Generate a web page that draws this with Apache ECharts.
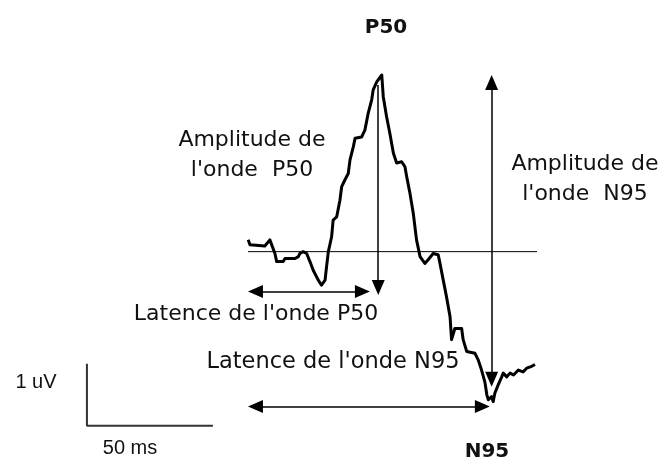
<!DOCTYPE html>
<html>
<head>
<meta charset="utf-8">
<script src="https://cdn.jsdelivr.net/npm/echarts@6/dist/echarts.min.js"></script>
<style>
  html, body { margin: 0; padding: 0; background: #fff; }
  #main { width: 665px; height: 463px; }
</style>
</head>
<body>
<div id="main"></div>
<script>
// trace of the wave: time (ms) after stimulus, amplitude (uV)
var traceT = [0.1, 0.8, 6.7, 8.7, 9.4, 10.7, 11.4, 14.0, 14.7, 18.7, 20.0, 20.6, 21.9, 23.3, 24.6, 25.9, 27.9, 29.2, 30.6, 31.2,
  31.9, 33.2, 33.8, 35.2, 36.5, 37.2, 38.5, 39.8, 40.5, 41.8, 42.5, 45.1, 46.4, 47.7, 49.1, 49.7, 51.1, 53.1, 53.7, 55.0,
  56.3, 57.7, 59.0, 61.0, 62.3, 63.0, 64.3, 65.6, 66.9, 68.3, 70.2, 71.5, 73.5, 75.5, 76.2, 77.5, 78.8, 80.2, 80.8, 82.1,
  84.8, 85.4, 86.8, 90.1, 91.4, 92.7, 94.0, 94.8, 95.4, 96.7, 97.3, 98.0, 99.3, 100.7, 101.3, 102.7, 104.0, 105.4, 107.3, 109.2,
  110.6, 112.6, 113.9];
var traceV = [0.19, 0.11, 0.09, 0.19, 0.16, -0.03, -0.16, -0.16, -0.11, -0.11, -0.08, -0.03, 0, -0.03, -0.16, -0.30, -0.46, -0.54, -0.46, -0.24,
  0, 0.24, 0.51, 0.56, 0.83, 1.05, 1.16, 1.26, 1.48, 1.69, 1.83, 1.85, 1.96, 2.23, 2.45, 2.61, 2.74, 2.85, 2.50, 2.18,
  1.91, 1.59, 1.43, 1.45, 1.37, 1.21, 0.94, 0.62, 0.19, -0.08, -0.19, -0.13, -0.03, -0.05, -0.19, -0.46, -0.73, -1.05, -1.42, -1.24,
  -1.24, -1.42, -1.61, -1.64, -1.75, -1.91, -2.10, -2.31, -2.39, -2.34, -2.42, -2.28, -2.15, -2.02, -1.96, -2.02, -1.96, -1.99, -1.91, -1.94,
  -1.88, -1.85, -1.82];

// annotation measures
var baselineEnd = 114.7;
var p50Latency = 48.4;  var p50Time = 51.7;  var p50Top = 2.69;  var p50Bottom = -0.70;  var p50LatY = -0.645;
var n95Latency = 96.0;  var n95Time = 96.7;  var n95Top = 2.85;  var n95Bottom = -2.18;  var n95LatY = -2.50;
// calibration bars
var barOrigin = [-63.9, -2.81];
var barTime = 50;  // ms
var barVolt = 1;   // uV

var xMin = -98.4, xMax = 165.5, yMin = -3.41, yMax = 4.06;
var W = 665, H = 463;

var traceData = traceT.map(function (t, i) { return [t, traceV[i]]; });
var scaleBar = [[barOrigin[0], barOrigin[1] + barVolt], barOrigin, [barOrigin[0] + barTime, barOrigin[1]]];

// arrow heads are drawn centred on the line end, so pull the line in by half a head
var headLen = 15, headW = 13;
function inset(p, q, on) {
  if (!on) return p;
  var dx = (q[0] - p[0]) * W / (xMax - xMin), dy = (q[1] - p[1]) * H / (yMax - yMin);
  var d = Math.sqrt(dx * dx + dy * dy), k = headLen / 2 / d;
  return [p[0] + (q[0] - p[0]) * k, p[1] + (q[1] - p[1]) * k];
}
function arrow(a, b, headA, headB) {
  return [
    { coord: inset(a, b, headA), symbol: headA ? 'triangle' : 'none', symbolSize: [headW, headLen] },
    { coord: inset(b, a, headB), symbol: headB ? 'triangle' : 'none', symbolSize: [headW, headLen] }
  ];
}

var myChart = echarts.init(document.getElementById('main'));

function txt(s, x, y, size, bold, family) {
  return {
    type: 'text', x: x, y: y, silent: true,
    style: {
      text: s, fill: '#111',
      font: (bold ? 'bold ' : '') + size + 'px ' + family,
      align: 'center', verticalAlign: 'middle',
      textAlign: 'center', textVerticalAlign: 'middle'
    }
  };
}

myChart.setOption({
  animation: false,
  backgroundColor: '#fff',
  grid: { left: 0, right: 0, top: 0, bottom: 0 },
  xAxis: { type: 'value', min: xMin, max: xMax, show: false },
  yAxis: { type: 'value', min: yMin, max: yMax, show: false },
  graphic: [
    txt('P50', 386, 28, 20, true, '"DejaVu Sans"'),
    txt('N95', 487, 452, 20, true, '"DejaVu Sans"'),
    txt('Amplitude de', 252, 140, 22, false, '"DejaVu Sans"'),
    txt("l'onde  P50", 252, 170, 22, false, '"DejaVu Sans"'),
    txt('Amplitude de', 585, 164, 22, false, '"DejaVu Sans"'),
    txt("l'onde  N95", 585, 194, 22, false, '"DejaVu Sans"'),
    txt("Latence de l'onde P50", 256, 314, 22, false, '"DejaVu Sans"'),
    txt("Latence de l'onde N95", 333, 362, 22.5, false, '"DejaVu Sans"'),
    txt('1 uV', 36, 382, 20, false, '"Liberation Sans"'),
    txt('50 ms', 130, 448, 20, false, '"Liberation Sans"')
  ],
  series: [
    {
      name: 'baseline', type: 'line', silent: true, symbol: 'none',
      lineStyle: { color: '#000', width: 1 },
      data: [[0, 0], [baselineEnd, 0]]
    },
    {
      name: 'scale', type: 'line', silent: true, symbol: 'none',
      lineStyle: { color: '#333', width: 2 },
      data: scaleBar
    },
    {
      name: 'onde', type: 'line', silent: true, symbol: 'none',
      lineStyle: { color: '#000', width: 3, join: 'round' },
      data: traceData,
      markLine: {
        silent: true, animation: false,
        label: { show: false },
        lineStyle: { color: '#000', width: 1.5, type: 'solid' },
        data: [
          arrow([p50Time, p50Top], [p50Time, p50Bottom], false, true),
          arrow([0, p50LatY], [p50Latency, p50LatY], true, true),
          arrow([n95Time, n95Bottom], [n95Time, n95Top], true, true),
          arrow([0, n95LatY], [n95Latency, n95LatY], true, true)
        ]
      }
    }
  ]
});
</script>
</body>
</html>
